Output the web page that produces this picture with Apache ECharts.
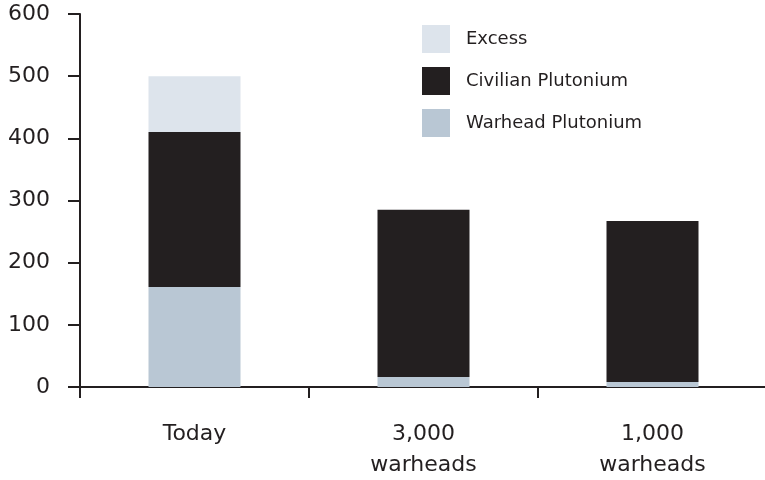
<!DOCTYPE html>
<html>
<head>
<meta charset="utf-8">
<script src="https://cdn.jsdelivr.net/npm/echarts@6/dist/echarts.min.js"></script>
<style>
  html, body { margin: 0; padding: 0; background: #fff; }
  #chart { width: 765px; height: 480px; }
</style>
</head>
<body>
<div id="chart"></div>
<script>
var categories = ['Today', '3,000\nwarheads', '1,000\nwarheads'];
var warheadPu = [161, 16, 8];
var civilianPu = [249, 269, 259];
var excessPu = [90, 0, 0];
var yTicks = [0, 100, 200, 300, 400, 500, 600];

var axisColor = '#231f20';
var fontName = 'DejaVu Sans';

var myChart = echarts.init(document.getElementById('chart'));
var option = {
    animation: false,
    textStyle: { fontFamily: fontName },
    legend: {
        orient: 'vertical',
        left: 422,
        top: 25,
        padding: 0,
        itemWidth: 28,
        itemHeight: 28,
        itemGap: 14,
        icon: 'rect',
        data: ['Excess', 'Civilian Plutonium', 'Warhead Plutonium'],
        textStyle: { fontSize: 18, color: axisColor, padding: [0, 0, 0, 11], fontFamily: fontName }
    },
    grid: {
        left: 80,
        top: 14,
        width: 687,
        bottom: 93,
        outerBoundsMode: 'none'
    },
    xAxis: {
        type: 'category',
        data: categories,
        axisLine: { lineStyle: { color: axisColor, width: 2 } },
        axisTick: { show: true, length: 11, lineStyle: { color: axisColor, width: 2 } },
        axisLabel: { fontSize: 22, color: axisColor, margin: 32, lineHeight: 31, fontFamily: fontName }
    },
    yAxis: {
        type: 'value',
        min: yTicks[0],
        max: yTicks[yTicks.length - 1],
        interval: 100,
        splitLine: { show: false },
        axisLine: { show: true, lineStyle: { color: axisColor, width: 2 } },
        axisTick: { show: true, length: 12, lineStyle: { color: axisColor, width: 2 } },
        axisLabel: { fontSize: 22, color: axisColor, margin: 30, padding: [3, 0, 0, 0], fontFamily: fontName }
    },
    series: [
        {
            name: 'Warhead Plutonium', type: 'bar', stack: 'pu', barWidth: 92,
            data: warheadPu, itemStyle: { color: '#b9c7d4' }
        },
        {
            name: 'Civilian Plutonium', type: 'bar', stack: 'pu', barWidth: 92,
            data: civilianPu, itemStyle: { color: '#231f20' }
        },
        {
            name: 'Excess', type: 'bar', stack: 'pu', barWidth: 92,
            data: excessPu, itemStyle: { color: '#dde4ec' }
        }
    ]
};
myChart.setOption(option);
</script>
</body>
</html>
